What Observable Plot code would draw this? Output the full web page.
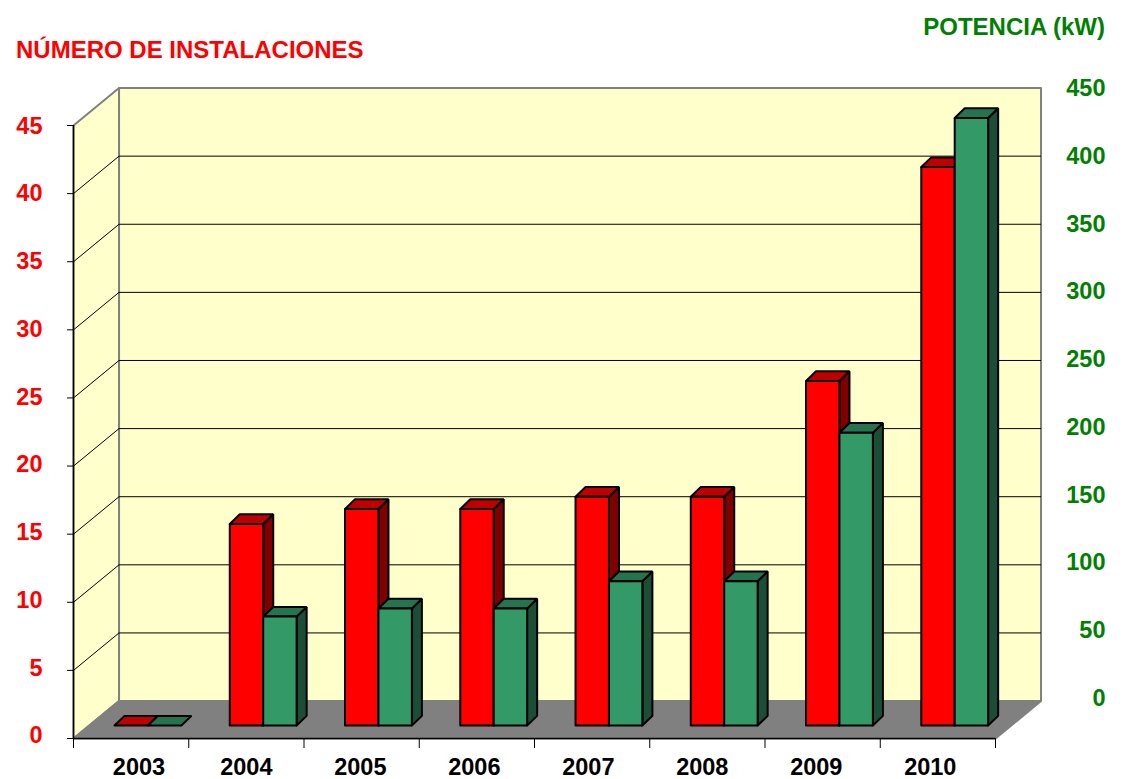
<!DOCTYPE html>
<html lang="es">
<head>
<meta charset="utf-8">
<script src="https://cdn.jsdelivr.net/npm/d3@7"></script>
<script src="https://cdn.jsdelivr.net/npm/@observablehq/plot@0.6"></script>
<style>
  html, body { margin: 0; padding: 0; background: #fff; }
  #chart { position: relative; width: 1130px; height: 779px; overflow: hidden; }
  #chart svg { display: block; position: absolute; left: 0; top: 0; overflow: visible; }
  .head { position: absolute; font: bold 24px "Liberation Sans", Arial, sans-serif; white-space: nowrap; line-height: 26px; }
</style>
</head>
<body>
<div id="chart">
  <div class="head" style="left:16px;top:37px;color:#ff0000">NÚMERO DE INSTALACIONES</div>
  <div class="head" style="right:25px;top:14px;color:#008000">POTENCIA (kW)</div>
</div>
<script>
const years = ["2003", "2004", "2005", "2006", "2007", "2008", "2009", "2010"];
const instalaciones = [0, 14.8, 15.9, 15.9, 16.8, 16.8, 25.3, 41];
const potencia = [0, 80, 86, 86, 106, 106, 215, 446];
const leftTicks = [0, 5, 10, 15, 20, 25, 30, 35, 40, 45];
const rightTicks = [0, 50, 100, 150, 200, 250, 300, 350, 400, 450];
const gridValues = [5, 10, 15, 20, 25, 30, 35, 40];

const RED = {front: "#ff0000", side: "#800000", top: "#bf0000"};
const GREEN = {front: "#339966", side: "#1c4d37", top: "#267350"};

// Depth of the room and the bars, in scale units
const roomX = 0.395, roomY = 2.75;
const barW = 0.29, barOffX = 0.146, barBase = 0.95, barDX = 0.087, barDY = 0.71;
const kwPerUnit = 10;

function pushPoly(arr, id, fill, pts) {
  [...pts, pts[0]].forEach(([x, y]) => arr.push({id, fill, x, y}));
}

const polys = [];
years.forEach((yr, i) => {
  const center = i + 0.5 + barOffX;
  [[center - barW, instalaciones[i], RED, "r"], [center, potencia[i] / kwPerUnit, GREEN, "g"]].forEach(([x0, v, c, k]) => {
    const x1 = x0 + barW, y0 = barBase, y1 = barBase + v;
    if (v > 0) {
      pushPoly(polys, `${yr}${k}s`, c.side, [[x1, y0], [x1 + barDX, y0 + barDY], [x1 + barDX, y1 + barDY], [x1, y1]]);
    }
    pushPoly(polys, `${yr}${k}t`, c.top, [[x0, y1], [x1, y1], [x1 + barDX, y1 + barDY], [x0 + barDX, y1 + barDY]]);
    if (v > 0) {
      pushPoly(polys, `${yr}${k}f`, c.front, [[x0, y0], [x1, y0], [x1, y1], [x0, y1]]);
    }
  });
});

const room = [];
pushPoly(room, "back", "#ffffcc", [[roomX, roomY], [8 + roomX, roomY], [8 + roomX, 45 + roomY], [roomX, 45 + roomY]]);
pushPoly(room, "side", "#ffffcc", [[0, 0], [roomX, roomY], [roomX, 45 + roomY], [0, 45]]);
pushPoly(room, "floor", "#808080", [[0, 0], [8, 0], [8 + roomX, roomY], [roomX, roomY]]);

const txt = {fontFamily: "Liberation Sans, Arial, sans-serif", fontWeight: "bold", fontSize: 23.5, lineAnchor: "middle"};

const svg = Plot.plot({
  width: 1130,
  height: 779,
  marginLeft: 73,
  marginRight: 135,
  marginTop: 125,
  marginBottom: 41,
  style: {background: "transparent"},
  x: {type: "linear", domain: [0, 8], label: null},
  y: {type: "linear", domain: [0, 45], label: null},
  marks: [
    Plot.line(room, {x: "x", y: "y", z: "id", fill: "fill", stroke: "#808080", strokeWidth: 2, curve: "linear"}),
    // grid on the back wall and on the side wall
    Plot.link(gridValues, {x1: roomX, x2: 8 + roomX, y1: d => d + roomY, y2: d => d + roomY, stroke: "#000", strokeWidth: 1}),
    Plot.link(gridValues, {x1: 0, x2: roomX, y1: d => d, y2: d => d + roomY, stroke: "#000", strokeWidth: 1}),
    // front edges
    Plot.ruleX([0], {y1: 0, y2: 45, stroke: "#000", strokeWidth: 1.5}),
    Plot.ruleY([0], {x1: 0, x2: 8, stroke: "#000", strokeWidth: 1.5}),
    // bars
    Plot.line(polys, {x: "x", y: "y", z: "id", fill: "fill", stroke: "#000", strokeWidth: 2, strokeLinejoin: "miter", curve: "linear"}),
    // axes
    Plot.axisY(leftTicks, {anchor: "left", tickSize: 6, stroke: "#000", tickFormat: () => "", label: null}),
    Plot.axisX(d3.range(0, 9), {anchor: "bottom", tickSize: 10, stroke: "#000", tickFormat: () => "", label: null}),
    Plot.text(leftTicks, {y: d => 0.26 + d * 0.995, text: d => String(d), frameAnchor: "left", dx: -31, dy: 1, textAnchor: "end", fill: "#ff0000", ...txt}),
    Plot.text(rightTicks, {y: d => 3.01 + d / kwPerUnit * 0.995, text: d => String(d), frameAnchor: "right", dx: 110, dy: 1, textAnchor: "end", fill: "#008000", ...txt}),
    Plot.text(years, {x: (d, i) => i === 0 ? 0.568 : 1.5 + (i - 1) * 0.989, text: d => d, frameAnchor: "bottom", dy: 29, textAnchor: "middle", fill: "#000", ...txt})
  ]
});
document.getElementById("chart").appendChild(svg);
</script>
</body>
</html>
